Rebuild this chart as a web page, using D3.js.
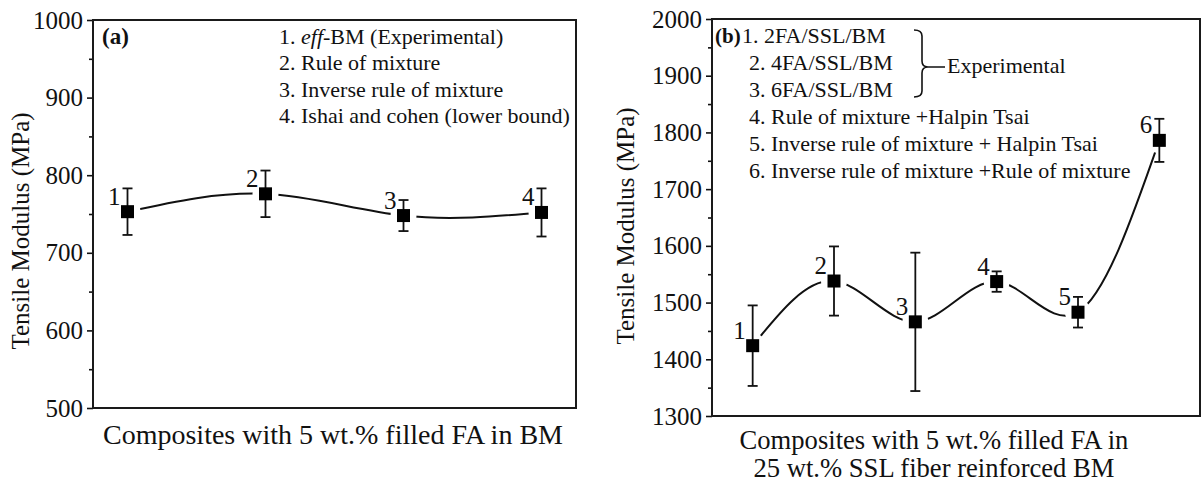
<!DOCTYPE html>
<html><head><meta charset="utf-8">
<script src="https://cdn.jsdelivr.net/npm/d3@7"></script>
<style>
body{margin:0;background:#fff}
svg{display:block}
text{font-family:"Liberation Serif","Times New Roman",serif;fill:#111}
</style>
</head><body>
<svg id="c" width="1204" height="485"></svg>
<script>
// ---------- data ----------
const categoriesA = [1, 2, 3, 4];
const valuesA = [753, 776, 748, 752];
const errorsA = [30, 30, 20, 31];
const yTicksA = [500, 600, 700, 800, 900, 1000];
const yMinorA = [550, 650, 750, 850, 950];
const legendA = [
  "1. eff-BM (Experimental)",
  "2. Rule of mixture",
  "3. Inverse rule of mixture",
  "4. Ishai and cohen (lower bound)"
];
const xTitleA = ["Composites with 5 wt.% filled FA in BM"];

const categoriesB = [1, 2, 3, 4, 5, 6];
const valuesB = [1424, 1538, 1466, 1537, 1483, 1786];
const errorsB = [71, 61, 122, 18, 27, 38];
const yTicksB = [1300, 1400, 1500, 1600, 1700, 1800, 1900, 2000];
const yMinorB = [1350, 1450, 1550, 1650, 1750, 1850, 1950];
const legendB = [
  "1. 2FA/SSL/BM",
  "2. 4FA/SSL/BM",
  "3. 6FA/SSL/BM",
  "4. Rule of mixture +Halpin Tsai",
  "5. Inverse rule of mixture + Halpin Tsai",
  "6. Inverse rule of mixture +Rule of mixture"
];
const bracketLabel = "Experimental";
const xTitleB = ["Composites with 5 wt.% filled FA in", "25 wt.% SSL fiber reinforced BM"];
const yTitle = "Tensile Modulus (MPa)";

const svg = d3.select("#c");

function panel(o) {
  const g = svg.append("g");
  const x = d3.scaleLinear().domain(o.xDomain).range([o.left, o.right]);
  const y = d3.scaleLinear().domain(o.yDomain).range([o.bottom, o.top]);

  // axes
  const ax = g.append("g").attr("transform", `translate(${o.left},0)`)
    .call(d3.axisLeft(y).tickValues(o.ticks).tickSize(6).tickPadding(4).tickFormat(d3.format("d")));
  ax.select(".domain").remove();
  ax.selectAll("line").attr("stroke", "#111").attr("stroke-width", 1.6);
  ax.selectAll("text").style("font-size", "25px").attr("fill", "#111")
    .style("font-family", '"Liberation Serif",serif');
  const axm = g.append("g").attr("transform", `translate(${o.left},0)`)
    .call(d3.axisLeft(y).tickValues(o.minor).tickSize(4).tickFormat(""));
  axm.select(".domain").remove();
  axm.selectAll("line").attr("stroke", "#111").attr("stroke-width", 1.6);

  // frame
  g.append("rect").attr("x", o.left).attr("y", o.top)
    .attr("width", o.right - o.left).attr("height", o.bottom - o.top)
    .attr("fill", "none").attr("stroke", "#1a1a1a").attr("stroke-width", 2);

  // mask for curve gaps
  const mid = "m" + o.id;
  const mask = svg.append("defs").append("mask").attr("id", mid)
    .attr("maskUnits", "userSpaceOnUse").attr("x", 0).attr("y", 0).attr("width", 1204).attr("height", 485);
  mask.append("rect").attr("x", 0).attr("y", 0).attr("width", 1204).attr("height", 485).attr("fill", "#fff");
  mask.selectAll("circle").data(o.cats).join("circle")
    .attr("cx", (d) => x(d)).attr("cy", (d, i) => y(o.vals[i])).attr("r", 13).attr("fill", "#000");

  const pts = o.cats.map((c, i) => [c, o.vals[i]]);
  g.append("path").datum(pts)
    .attr("d", d3.line().x(d => x(d[0])).y(d => y(d[1])).curve(d3.curveNatural))
    .attr("fill", "none").attr("stroke", "#111").attr("stroke-width", 2)
    .attr("mask", `url(#${mid})`);

  // error bars
  const eb = g.selectAll(".eb").data(o.cats).join("g");
  eb.append("line").attr("x1", d => x(d)).attr("x2", d => x(d))
    .attr("y1", (d, i) => y(o.vals[i] + o.errs[i])).attr("y2", (d, i) => y(o.vals[i] - o.errs[i]))
    .attr("stroke", "#111").attr("stroke-width", 1.8);
  [1, -1].forEach(s => {
    eb.append("line").attr("x1", d => x(d) - 5).attr("x2", d => x(d) + 5)
      .attr("y1", (d, i) => y(o.vals[i] + s * o.errs[i])).attr("y2", (d, i) => y(o.vals[i] + s * o.errs[i]))
      .attr("stroke", "#111").attr("stroke-width", 1.8);
  });
  // markers
  g.selectAll(".mk").data(o.cats).join("rect")
    .attr("x", d => x(d) - 6.5).attr("y", (d, i) => y(o.vals[i]) - 6.5)
    .attr("width", 13).attr("height", 13).attr("fill", "#000");
  // point labels
  g.selectAll(".pl").data(o.cats).join("text")
    .attr("x", d => x(d) - 7).attr("y", (d, i) => y(o.vals[i]) - 7)
    .attr("text-anchor", "end").style("font-size", "25px").text(d => d);

  // y title
  g.append("text").attr("transform", `translate(${o.yTitleX},${o.yTitleY}) rotate(-90)`)
    .attr("text-anchor", "middle").style("font-size", "25px").text(yTitle);
  // x title
  o.xTitle.forEach((t, i) => {
    g.append("text").attr("x", o.xTitleX).attr("y", o.xTitleY + i * 28)
      .attr("text-anchor", "middle").style("font-size", o.xTitleSize + "px").text(t);
  });
  return { g, x, y };
}

const A = panel({
  id: "a", left: 93, right: 576, top: 20, bottom: 408,
  xDomain: [0.75, 4.25], yDomain: [500, 1000], ticks: yTicksA, minor: yMinorA,
  cats: categoriesA, vals: valuesA, errs: errorsA,
  yTitleX: 29, yTitleY: 231, xTitle: xTitleA, xTitleX: 333, xTitleY: 444, xTitleSize: 28
});
const B = panel({
  id: "b", left: 712, right: 1200, top: 19, bottom: 416,
  xDomain: [0.5, 6.5], yDomain: [1300, 2000], ticks: yTicksB, minor: yMinorB,
  cats: categoriesB, vals: valuesB, errs: errorsB,
  yTitleX: 634, yTitleY: 226, xTitle: xTitleB, xTitleX: 934, xTitleY: 449, xTitleSize: 26.6
});

// panel labels + legends
A.g.append("text").attr("x", 102).attr("y", 44).style("font-size", "23px").style("font-weight", "bold").text("(a)");
legendA.forEach((t, i) => {
  const tx = A.g.append("text").attr("x", 279).attr("y", 44 + i * 26.3).style("font-size", "22px");
  if (t.indexOf("eff-") >= 0) {
    const [pre, post] = t.split("eff");
    tx.append("tspan").text(pre);
    tx.append("tspan").style("font-style", "italic").text("eff");
    tx.append("tspan").text(post);
  } else tx.text(t);
});

B.g.append("text").attr("x", 715).attr("y", 43).style("font-size", "21px").style("font-weight", "bold").text("(b)");
legendB.forEach((t, i) => {
  B.g.append("text").attr("x", i === 0 ? 742 : 749).attr("y", 43 + i * 27).style("font-size", "22px").text(t);
});
// bracket
B.g.append("path")
  .attr("d", "M914,30 Q922,30 922,36 L922,61 Q922,67 928,67 L945,67 M928,67 Q922,67 922,73 L922,91 Q922,97 914,97")
  .attr("fill", "none").attr("stroke", "#111").attr("stroke-width", 1.6);
B.g.append("text").attr("x", 947).attr("y", 73).style("font-size", "22px").text(bracketLabel);
</script>
</body></html>
